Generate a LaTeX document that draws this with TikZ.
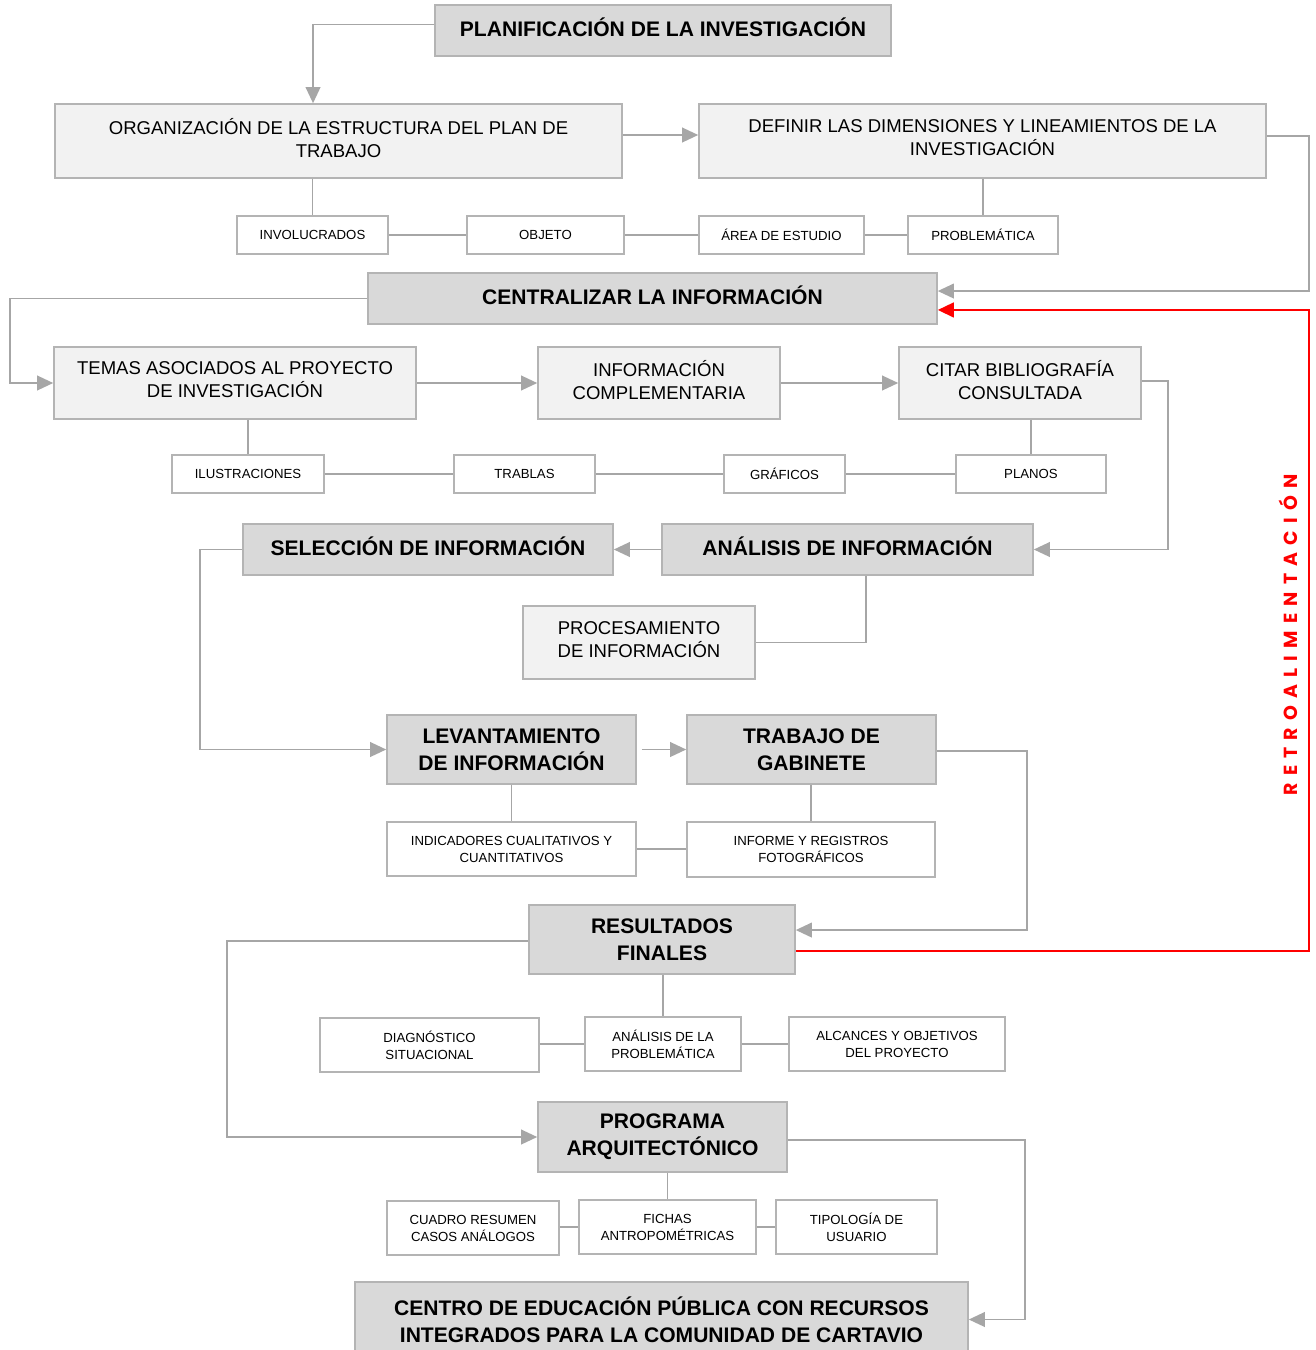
\documentclass[tikz,border=0pt]{standalone}
\usepackage{fontspec}
\setmainfont{Liberation Sans}
\newfontfamily\retrofont[LetterSpace=38]{Poppins}
\usetikzlibrary{arrows.meta}
\definecolor{boxline}{HTML}{B4B4B4}
\definecolor{wire}{HTML}{A6A6A6}
\definecolor{darkfill}{HTML}{D9D9D9}
\definecolor{lightfill}{HTML}{F2F2F2}
\definecolor{feedback}{HTML}{FF0000}

\tikzset{
  base/.style={draw=boxline, line width=1.2pt, inner sep=0pt, align=center, text=black},
  head/.style={base, fill=darkfill, font=\fontsize{15.8}{20.25}\selectfont\bfseries},
  headone/.style={head, text depth=5pt},
  mid/.style={base, fill=lightfill, text depth=5pt, font=\fontsize{13.9}{17.25}\selectfont},
  leaf/.style={base, fill=white, font=\fontsize{9.9}{12.75}\selectfont},
  link/.style={draw=wire, line width=1.2pt},
  arr/.style={link, -{Triangle[length=12pt,width=11pt]}},
  redarr/.style={draw=feedback, line width=1.8pt, -{Triangle[length=12pt,width=11pt]}},
}

% box from its pixel corners: name, style, x1, y1, x2, y2, text
\newcommand\mkbox[7]{%
  \node[#2, minimum width={(#5-#3)*0.75pt}, minimum height={(#6-#4)*0.75pt}]
    (#1) at ({(#3+#5)/2},{(#4+#6)/2}) {#7};}

\begin{document}
\begin{tikzpicture}[x=0.75pt, y=-0.75pt]
\useasboundingbox[fill=white] (0,0) rectangle (1316,1350);

% main stages and their items
\mkbox{plan}{headone}{435}{5}{891}{56}{PLANIFICACIÓN DE LA INVESTIGACIÓN}
\mkbox{org}{mid}{55}{104}{622}{178}{ORGANIZACIÓN DE LA ESTRUCTURA DEL PLAN DE\\TRABAJO}
\mkbox{def}{mid}{699}{104}{1266}{178}{DEFINIR LAS DIMENSIONES Y LINEAMIENTOS DE LA\\INVESTIGACIÓN}
\mkbox{inv}{leaf}{237}{216}{388}{254}{INVOLUCRADOS}
\mkbox{obj}{leaf}{467}{216}{624}{254}{OBJETO}
\mkbox{area}{leaf}{699}{216}{864}{254}{ÁREA DE ESTUDIO}
\mkbox{prob}{leaf}{908}{216}{1058}{254}{PROBLEMÁTICA}
\mkbox{cent}{headone}{368}{273}{937}{324}{CENTRALIZAR LA INFORMACIÓN}
\mkbox{temas}{mid}{54}{347}{416}{419}{TEMAS ASOCIADOS AL PROYECTO\\DE INVESTIGACIÓN}
\mkbox{info}{mid}{538}{347}{780}{419}{INFORMACIÓN\\COMPLEMENTARIA}
\mkbox{citar}{mid}{899}{347}{1141}{419}{CITAR BIBLIOGRAFÍA\\CONSULTADA}
\mkbox{ilus}{leaf}{172}{455}{324}{493}{ILUSTRACIONES}
\mkbox{trab}{leaf}{454}{455}{595}{493}{TRABLAS}
\mkbox{graf}{leaf}{724}{455}{845}{493}{GRÁFICOS}
\mkbox{planos}{leaf}{956}{455}{1106}{493}{PLANOS}
\mkbox{sel}{headone}{243}{524}{613}{575}{SELECCIÓN DE INFORMACIÓN}
\mkbox{ana}{headone}{662}{524}{1033}{575}{ANÁLISIS DE INFORMACIÓN}
\mkbox{proc}{mid}{523}{606}{755}{679}{PROCESAMIENTO\\DE INFORMACIÓN}
\mkbox{lev}{head}{387}{715}{636}{784}{LEVANTAMIENTO\\DE INFORMACIÓN}
\mkbox{tra}{head}{687}{715}{936}{784}{TRABAJO DE\\GABINETE}
\mkbox{ind}{leaf}{387}{822}{636}{876}{INDICADORES CUALITATIVOS Y\\CUANTITATIVOS}
\mkbox{inf}{leaf}{687}{822}{935}{877}{INFORME Y REGISTROS\\FOTOGRÁFICOS}
\mkbox{res}{head}{529}{905}{795}{974}{RESULTADOS\\FINALES}
\mkbox{diag}{leaf}{320}{1018}{539}{1072}{DIAGNÓSTICO\\SITUACIONAL}
\mkbox{anp}{leaf}{585}{1017}{741}{1071}{ANÁLISIS DE LA\\PROBLEMÁTICA}
\mkbox{alc}{leaf}{789}{1017}{1005}{1071}{ALCANCES Y OBJETIVOS\\DEL PROYECTO}
\mkbox{prog}{head}{538}{1102}{787}{1172}{PROGRAMA\\ARQUITECTÓNICO}
\mkbox{cua}{leaf}{387}{1201}{559}{1255}{CUADRO RESUMEN\\CASOS ANÁLOGOS}
\mkbox{fich}{leaf}{579}{1200}{756}{1254}{FICHAS\\ANTROPOMÉTRICAS}
\mkbox{tipo}{leaf}{776}{1200}{937}{1254}{TIPOLOGÍA DE\\USUARIO}
\mkbox{centro}{head}{355}{1282}{968}{1357}{CENTRO DE EDUCACIÓN PÚBLICA CON RECURSOS\\INTEGRADOS PARA LA COMUNIDAD DE CARTAVIO}

% flow between stages
\draw[arr] ([yshift=4.5pt]plan.west) -| ([xshift=-19.1pt]org.north);
\draw[arr] ([yshift=4.5pt]org.east) -- ([yshift=4.5pt]def.west);
\draw[arr] ([yshift=3.75pt]def.east) -- ++(31.5pt,0) |- ([yshift=5.6pt]cent.east);
\draw[arr] (cent.west) -- ++(-267.75pt,0) |- (temas.west);
\draw[arr] (temas.east) -- (info.west);
\draw[arr] (info.east) -- (citar.west);
\draw[arr] ([yshift=1.5pt]citar.east) -- ++(19.5pt,0) |- (ana.east);
\draw[arr] (ana.west) -- (sel.east);
\draw[link] ([xshift=13.9pt]ana.south) |- (proc.east);
\draw[arr] (sel.west) -- ++(-31.5pt,0) |- (lev.west);
\draw[arr] ([xshift=3.75pt]lev.east) -- (tra.west);
\draw[arr] ([yshift=-1.1pt]tra.east) -- ++(67.5pt,0) |- ([yshift=7.1pt]res.east);
\draw[arr] ([yshift=-1.1pt]res.west) -- ++(-225.75pt,0) |- (prog.west);
\draw[arr] ([yshift=-2.25pt]prog.east) -- ++(177.75pt,0) |- (centro.east);

% feedback loop
\draw[redarr] ([yshift=-8.6pt]res.east) -- ++(384.75pt,0) |- ([yshift=-8.6pt]cent.east);
\node[text=feedback, rotate=90, font={\retrofont\fontsize{14.2}{14}\selectfont\bfseries}]
  (retro) at (1288,635) {RETROALIMENTACIÓN};

% items hanging from each stage
\draw[link] (inv.north |- org.south) -- (inv.north);
\draw[link] (prob.north |- def.south) -- (prob.north);
\draw[link] (inv) -- (obj) -- (area) -- (prob);
\draw[link] (ilus.north |- temas.south) -- (ilus.north);
\draw[link] (planos.north |- citar.south) -- (planos.north);
\draw[link] (ilus) -- (trab) -- (graf) -- (planos);
\draw[link] (ind.north |- lev.south) -- (ind.north);
\draw[link] (inf.north |- tra.south) -- (inf.north);
\draw[link] (ind.east) -- (ind.east -| inf.west);
\draw[link] (anp.north |- res.south) -- (anp.north);
\draw[link] (anp.west -| diag.east) -- (anp.west);
\draw[link] (anp.east) -- (anp.east -| alc.west);
\draw[link] (fich.north |- prog.south) -- (fich.north);
\draw[link] (fich.west -| cua.east) -- (fich.west);
\draw[link] (fich.east) -- (fich.east -| tipo.west);
\end{tikzpicture}
\end{document}
